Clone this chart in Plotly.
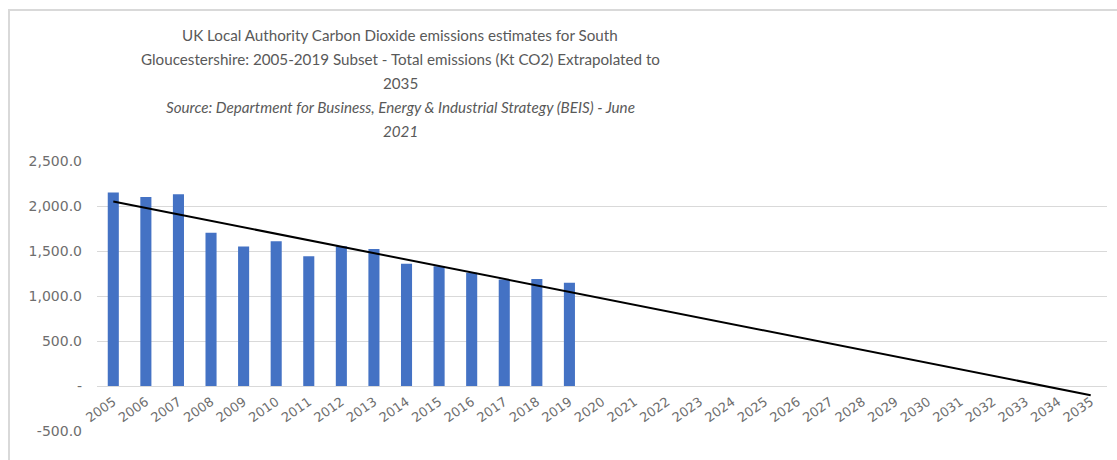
import numpy as np
import plotly.graph_objects as go

# Total emissions (Kt CO2), South Gloucestershire
data_years = list(range(2005, 2020))
emissions = [2150, 2100, 2130, 1704, 1549, 1608, 1441, 1552, 1523,
             1357, 1330, 1257, 1183, 1190, 1146]

# Category axis runs out to the extrapolation horizon
all_years = list(range(2005, 2036))
categories = [str(y) for y in all_years]

y_tick_values = [-500, 0, 500, 1000, 1500, 2000, 2500]
y_tick_labels = ["-500.0", "-", "500.0", "1,000.0", "1,500.0", "2,000.0", "2,500.0"]

title_lines = [
    "UK Local Authority Carbon Dioxide emissions estimates for South",
    "Gloucestershire: 2005-2019 Subset - Total emissions (Kt CO2) Extrapolated to",
    "2035",
]
source_lines = [
    "Source: Department for Business, Energy & Industrial Strategy (BEIS) - June",
    "2021",
]

# Linear trendline fitted to the observed years, extended to 2035
slope, intercept = np.polyfit(data_years, emissions, 1)
trend = [slope * y + intercept for y in all_years]

W, H = 1117, 460
ML, MR, MT, MB = 97, 10, 161, 29
PW, PH = W - ML - MR, H - MT - MB

def px_x(x):
    return (x - ML) / PW

def px_y(y):
    return (H - MB - y) / PH

fig = go.Figure()
fig.add_trace(go.Bar(
    x=[str(y) for y in data_years], y=emissions,
    marker=dict(color="#4472C4", line=dict(width=0)),
    showlegend=False, hoverinfo="x+y",
))
fig.add_trace(go.Scatter(
    x=categories, y=trend, mode="lines",
    line=dict(color="#000000", width=2),
    showlegend=False, hoverinfo="skip",
))

grey = "#595959"
tick_grey = "#6e6e6e"
title_font = "Lato, 'Open Sans', sans-serif"
tick_font = "'DejaVu Sans', sans-serif"

annotations = []
line_y = [35, 59, 83, 107, 131]
for i, txt in enumerate(title_lines + source_lines):
    italic = i >= len(title_lines)
    annotations.append(dict(
        text=f"<i>{txt}</i>" if italic else txt,
        xref="paper", yref="paper",
        x=px_x(400), y=px_y(line_y[i]),
        xanchor="center", yanchor="middle",
        showarrow=False,
        font=dict(family=title_font, size=15.2, color=grey),
    ))

fig.update_layout(
    width=W, height=H,
    margin=dict(l=ML, r=MR, t=MT, b=MB, autoexpand=False),
    paper_bgcolor="white", plot_bgcolor="white",
    bargap=0.66,
    annotations=annotations,
    shapes=[dict(
        type="rect", xref="paper", yref="paper",
        x0=px_x(9), x1=px_x(W + 20), y0=px_y(H + 20), y1=px_y(10),
        line=dict(color="#d9d9d9", width=2), fillcolor="rgba(0,0,0,0)",
        layer="below",
    )],
    xaxis=dict(
        type="category", categoryorder="array", categoryarray=categories,
        range=[-0.5, len(categories) - 0.5],
        anchor="free", position=500 / 3000,
        showgrid=False, showline=False, zeroline=False,
        tickangle=-35, ticks="",
        tickfont=dict(family=tick_font, size=13, color=tick_grey),
        ticklabelstandoff=5,
    ),
    yaxis=dict(
        range=[-500, 2500],
        tickvals=y_tick_values, ticktext=y_tick_labels,
        showgrid=True, gridcolor="#d9d9d9", gridwidth=1,
        zeroline=True, zerolinecolor="#d9d9d9", zerolinewidth=1,
        showline=False, ticks="",
        tickfont=dict(family=tick_font, size=14, color=tick_grey),
        ticklabelstandoff=14,
    ),
)

fig.write_html("out.html")
